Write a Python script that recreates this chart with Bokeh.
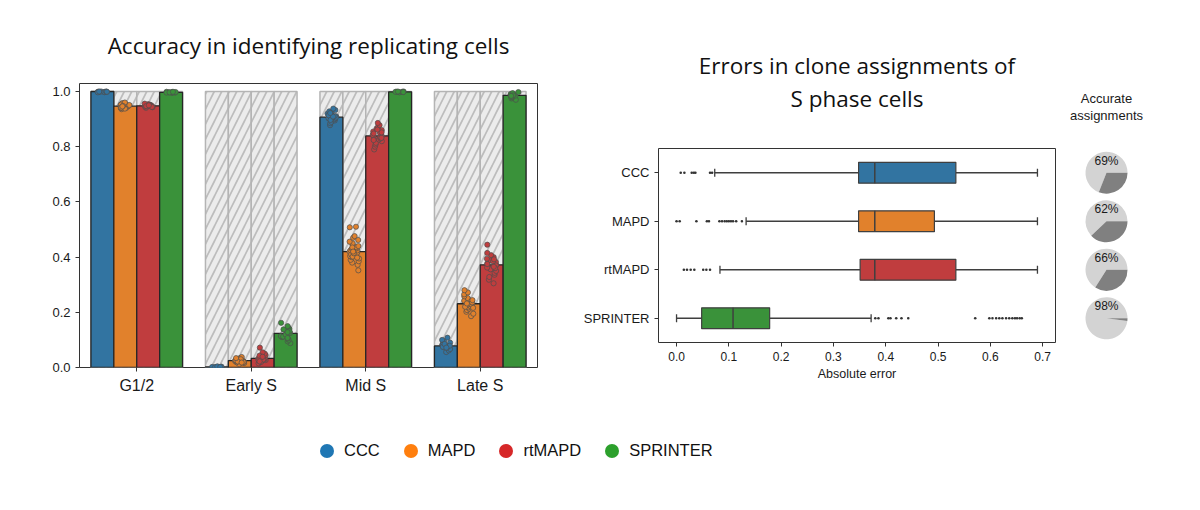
from bokeh.plotting import figure
from bokeh.models import (Range1d, FixedTicker, PrintfTickFormatter, ColumnDataSource,
                          Legend, LegendItem, Title)
from bokeh.layouts import row, column
from bokeh.transform import jitter
from bokeh.embed import file_html
from bokeh.resources import INLINE
import math

# ---------------- data ----------------
phases = ["G1/2", "Early S", "Mid S", "Late S"]
methods = ["CCC", "MAPD", "rtMAPD", "SPRINTER"]

bar_ccc = [1.0, 0.002, 0.907, 0.078]
bar_mapd = [0.947, 0.025, 0.420, 0.231]
bar_rtmapd = [0.948, 0.033, 0.839, 0.372]
bar_sprinter = [0.997, 0.124, 0.999, 0.986]
bar_ceiling = [1.0, 1.0, 1.0, 1.0]

# per-cell-line accuracies (strip points), [phase][values]
pts_ccc = [
    [0.998, 0.999, 1.0, 0.999, 0.997, 1.0, 0.998, 0.999, 1.0, 0.999],
    [0.0, 0.001, 0.002, 0.003, 0.002, 0.001, 0.004, 0.002],
    [0.878, 0.885, 0.89, 0.895, 0.899, 0.902, 0.905, 0.908, 0.91, 0.913, 0.916, 0.92,
     0.924, 0.928, 0.933, 0.938, 0.906, 0.911, 0.903, 0.918, 0.897, 0.914, 0.909, 0.922],
    [0.056, 0.062, 0.067, 0.071, 0.074, 0.077, 0.08, 0.083, 0.086, 0.09, 0.095, 0.1,
     0.108, 0.079, 0.082, 0.075, 0.085, 0.072],
]
pts_mapd = [
    [0.936, 0.94, 0.943, 0.945, 0.947, 0.95, 0.952, 0.955, 0.958, 0.941, 0.944, 0.946,
     0.949, 0.951, 0.938, 0.953, 0.96, 0.948, 0.942, 0.946],
    [0.012, 0.016, 0.019, 0.021, 0.023, 0.025, 0.027, 0.029, 0.031, 0.033, 0.035, 0.038,
     0.024, 0.026, 0.02, 0.028, 0.03, 0.022, 0.018, 0.034],
    [0.352, 0.372, 0.38, 0.385, 0.39, 0.395, 0.4, 0.404, 0.408, 0.412, 0.416, 0.42,
     0.424, 0.428, 0.432, 0.436, 0.44, 0.445, 0.45, 0.456, 0.462, 0.47, 0.476, 0.508,
     0.51, 0.418, 0.41, 0.425, 0.43, 0.402, 0.414, 0.398, 0.435, 0.42],
    [0.186, 0.195, 0.202, 0.208, 0.213, 0.218, 0.222, 0.226, 0.23, 0.234, 0.238, 0.242,
     0.247, 0.252, 0.258, 0.265, 0.272, 0.28, 0.228, 0.236, 0.22, 0.244, 0.232, 0.216],
]
pts_rtmapd = [
    [0.941, 0.943, 0.945, 0.947, 0.948, 0.95, 0.952, 0.954, 0.946, 0.949, 0.951, 0.944,
     0.956, 0.947, 0.95],
    [0.015, 0.02, 0.024, 0.027, 0.03, 0.032, 0.035, 0.038, 0.041, 0.045, 0.05, 0.055,
     0.072, 0.029, 0.033, 0.036, 0.026, 0.043, 0.022, 0.039],
    [0.79, 0.8, 0.808, 0.814, 0.82, 0.826, 0.83, 0.835, 0.84, 0.845, 0.85, 0.855, 0.86,
     0.866, 0.872, 0.878, 0.886, 0.838, 0.843, 0.832, 0.848, 0.824, 0.852, 0.862],
    [0.305, 0.318, 0.328, 0.336, 0.343, 0.35, 0.356, 0.362, 0.367, 0.372, 0.377, 0.382,
     0.388, 0.394, 0.4, 0.407, 0.415, 0.445, 0.37, 0.375, 0.36, 0.385, 0.365, 0.392],
]
pts_sprinter = [
    [0.995, 0.996, 0.997, 0.998, 0.999, 0.997, 0.996, 0.998, 0.997, 0.999],
    [0.088, 0.095, 0.1, 0.105, 0.11, 0.114, 0.118, 0.121, 0.124, 0.127, 0.13, 0.133,
     0.136, 0.14, 0.145, 0.15, 0.162, 0.112, 0.125, 0.131, 0.119, 0.107, 0.138, 0.128],
    [0.997, 0.998, 0.999, 1.0, 0.999, 0.998, 0.999, 1.0],
    [0.97, 0.975, 0.979, 0.982, 0.985, 0.987, 0.989, 0.991, 0.994, 0.998, 0.986, 0.984],
]

# clone-assignment absolute errors (box plot summary)
box_q1 = [0.348, 0.348, 0.351, 0.048]
box_med = [0.379, 0.379, 0.379, 0.108]
box_q3 = [0.534, 0.493, 0.534, 0.178]
box_lo = [0.073, 0.133, 0.083, 0.0]
box_hi = [0.690, 0.690, 0.690, 0.372]
out_ccc = [0.008, 0.015, 0.029, 0.033, 0.036, 0.064, 0.068]
out_mapd = [0.0, 0.006, 0.038, 0.058, 0.062, 0.082, 0.087, 0.092, 0.096, 0.1, 0.104,
            0.108, 0.114, 0.125]
out_rtmapd = [0.014, 0.02, 0.027, 0.034, 0.051, 0.057, 0.064]
out_sprinter = [0.38, 0.386, 0.405, 0.409, 0.42, 0.43, 0.443, 0.571, 0.598, 0.604, 0.611,
                0.617, 0.623, 0.63, 0.636, 0.642, 0.647, 0.651, 0.656, 0.66]

accurate_pct = [69, 62, 66, 98]

# ---------------- style ----------------
bar_colors = ["#3274a1", "#e1812c", "#c03d3e", "#3a923a"]
legend_colors = ["#1f77b4", "#ff7f0e", "#d62728", "#2ca02c"]
TXT = "#1a1a1a"
SANS = "Liberation Sans"
TITLE_FONT = "Open Sans"


def style_axes(p):
    p.xgrid.visible = False
    p.ygrid.visible = False
    p.outline_line_color = "#333333"
    p.outline_line_width = 1
    p.background_fill_color = "white"
    p.border_fill_color = "white"
    for ax in (p.xaxis[0], p.yaxis[0]):
        ax.axis_line_color = None
        ax.major_tick_in = 0
        ax.major_tick_out = 4
        ax.major_tick_line_color = "#333333"
        ax.minor_tick_line_color = None
        ax.major_label_text_font = SANS
        ax.major_label_text_color = TXT


def style_title(t, font, size, standoff, color="#111111"):
    t.text_font = font
    t.text_font_size = size
    t.text_font_style = "normal"
    t.text_color = color
    t.align = "center"
    t.standoff = standoff


# ---------------- left: accuracy bars ----------------
left = figure(width=560, height=408, output_backend="svg", toolbar_location=None,
              x_range=Range1d(-2.5, 17.5), y_range=Range1d(0, 1.029),
              min_border_left=79, min_border_right=23, min_border_top=83,
              min_border_bottom=41)
style_axes(left)
left.title.text = "Accuracy in identifying replicating cells"
style_title(left.title, TITLE_FONT, "22.5px", 46)

group_x = [g * 5 for g in range(len(phases))]
bar_series = [bar_ccc, bar_mapd, bar_rtmapd, bar_sprinter]
pts_series = [pts_ccc, pts_mapd, pts_rtmapd, pts_sprinter]

for m, vals in enumerate(bar_series):
    xs = [gx + m - 1.5 for gx in group_x]
    left.vbar(x=xs, top=bar_ceiling, width=1.0, fill_color="#ececec",
              hatch_pattern="/", hatch_color="#bdbdbd", hatch_scale=15, hatch_weight=1.7,
              line_color="#b4b4b4", line_width=1.5)

for m, vals in enumerate(bar_series):
    xs = [gx + m - 1.5 for gx in group_x]
    left.vbar(x=xs, top=vals, width=1.0, fill_color=bar_colors[m],
              line_color="#262626", line_width=1.3)

for m, per_phase in enumerate(pts_series):
    px, py = [], []
    for g, vals in enumerate(per_phase):
        for v in vals:
            px.append(group_x[g] + m - 1.5)
            py.append(v)
    src = ColumnDataSource(dict(x=px, y=py))
    left.scatter(x=jitter("x", width=0.42), y="y", source=src, size=5.2,
                 fill_color=bar_colors[m], line_color="#4d4d4d", line_width=0.7)

left.xaxis.ticker = FixedTicker(ticks=group_x)
left.xaxis.major_label_overrides = {gx: name for gx, name in zip(group_x, phases)}
left.xaxis.major_label_text_font_size = "16px"
left.yaxis.ticker = FixedTicker(ticks=[0, 0.2, 0.4, 0.6, 0.8, 1.0])
left.yaxis.formatter = PrintfTickFormatter(format="%.1f")
left.yaxis.major_label_text_font_size = "13px"

# ---------------- right: clone assignment errors ----------------
rows = [3, 2, 1, 0]
right = figure(width=510, height=408, output_backend="svg", toolbar_location=None,
               x_range=Range1d(-0.0345, 0.7245), y_range=Range1d(-0.5, 3.5),
               min_border_left=98, min_border_right=15, min_border_top=148,
               min_border_bottom=66)
style_axes(right)
right.title.text = "Errors in clone assignments of"
style_title(right.title, TITLE_FONT, "22.5px", 0)
r_gap = Title(text=" ")
style_title(r_gap, TITLE_FONT, "22.5px", 2)
right.add_layout(r_gap, "above")
r_sub = Title(text="S phase cells")
style_title(r_sub, TITLE_FONT, "22.5px", 0)
right.add_layout(r_sub, "above")

half_box = 0.215
half_cap = 0.085
bsrc = ColumnDataSource(dict(
    y=rows, q1=box_q1, med=box_med, q3=box_q3, lo=box_lo, hi=box_hi,
    color=bar_colors,
    cap0=[r - half_cap for r in rows], cap1=[r + half_cap for r in rows],
    b0=[r - half_box for r in rows], b1=[r + half_box for r in rows],
))
WH = "#3f3f3f"
right.segment(x0="lo", x1="q1", y0="y", y1="y", source=bsrc, line_color=WH, line_width=1.3)
right.segment(x0="q3", x1="hi", y0="y", y1="y", source=bsrc, line_color=WH, line_width=1.3)
right.segment(x0="lo", x1="lo", y0="cap0", y1="cap1", source=bsrc, line_color=WH, line_width=1.3)
right.segment(x0="hi", x1="hi", y0="cap0", y1="cap1", source=bsrc, line_color=WH, line_width=1.3)
right.hbar(y="y", left="q1", right="q3", height=2 * half_box, source=bsrc,
           fill_color="color", line_color=WH, line_width=1.2)
right.segment(x0="med", x1="med", y0="b0", y1="b1", source=bsrc, line_color=WH, line_width=1.5)

ox, oy = [], []
for r, outs in zip(rows, [out_ccc, out_mapd, out_rtmapd, out_sprinter]):
    for v in outs:
        ox.append(v)
        oy.append(r)
right.scatter(x=ox, y=oy, size=2.6, fill_color="#333333", line_color=None)

right.xaxis.ticker = FixedTicker(ticks=[0, 0.1, 0.2, 0.3, 0.4, 0.5, 0.6, 0.7])
right.xaxis.formatter = PrintfTickFormatter(format="%.1f")
right.xaxis.major_label_text_font_size = "12px"
right.xaxis.axis_label = "Absolute error"
right.xaxis.axis_label_text_font = SANS
right.xaxis.axis_label_text_font_size = "12.5px"
right.xaxis.axis_label_text_font_style = "normal"
right.xaxis.axis_label_text_color = TXT
right.xaxis.axis_label_standoff = 3
right.yaxis.ticker = FixedTicker(ticks=rows)
right.yaxis.major_label_overrides = {r: name for r, name in zip(rows, methods)}
right.yaxis.major_label_text_font_size = "13px"

# ---------------- pies: accurate assignments ----------------
pie = figure(width=90, height=408, output_backend="svg", toolbar_location=None,
             x_range=Range1d(-1, 1), y_range=Range1d(-0.5, 3.5),
             min_border_left=0, min_border_right=18, min_border_top=148,
             min_border_bottom=66)
pie.axis.visible = False
pie.xgrid.visible = False
pie.ygrid.visible = False
pie.outline_line_color = None
pie.title.text = "Accurate"
style_title(pie.title, SANS, "13px", 0, TXT)
p_gap = Title(text=" ")
style_title(p_gap, SANS, "13px", 9, TXT)
pie.add_layout(p_gap, "above")
p_sub = Title(text="assignments")
style_title(p_sub, SANS, "13px", 0, TXT)
pie.add_layout(p_sub, "above")

ends = [p / 100 * 2 * math.pi for p in accurate_pct]
psrc = ColumnDataSource(dict(
    y=rows, a_end=ends, full=[2 * math.pi] * 4, zero=[0.0] * 4,
    label=[f"{p}%" for p in accurate_pct],
))
pie.wedge(x=0, y="y", radius=21, radius_units="screen", start_angle="zero",
          end_angle="a_end", source=psrc, fill_color="#d3d3d3", line_color=None)
pie.wedge(x=0, y="y", radius=21, radius_units="screen", start_angle="a_end",
          end_angle="full", source=psrc, fill_color="#808080", line_color=None)
pie.text(x=0, y="y", text="label", source=psrc, y_offset=-12, text_align="center",
         text_baseline="middle", text_font_size="12px", text_color=TXT,
         text_font={"value": SANS})

# ---------------- legend ----------------
leg = figure(width=1184, height=86, output_backend="svg", toolbar_location=None,
             x_range=Range1d(0, 1), y_range=Range1d(0, 1), min_border=0)
leg.axis.visible = False
leg.xgrid.visible = False
leg.ygrid.visible = False
leg.outline_line_color = None
items = []
for name, c in zip(methods, legend_colors):
    r = leg.scatter(x=[-5], y=[-5], size=14, fill_color=c, line_color=None)
    items.append(LegendItem(label=name, renderers=[r]))
legend = Legend(items=items, orientation="horizontal", location=(309, 26),
                glyph_width=35, glyph_height=35, label_standoff=0, spacing=13,
                padding=0, margin=0, border_line_color=None, background_fill_alpha=0,
                label_text_font=SANS, label_text_font_size="16.5px",
                label_text_color="#111111")
leg.add_layout(legend, "center")

layout = column(row(left, column(row(right, pie))), leg)
open("out.html", "w").write(file_html(layout, INLINE))
